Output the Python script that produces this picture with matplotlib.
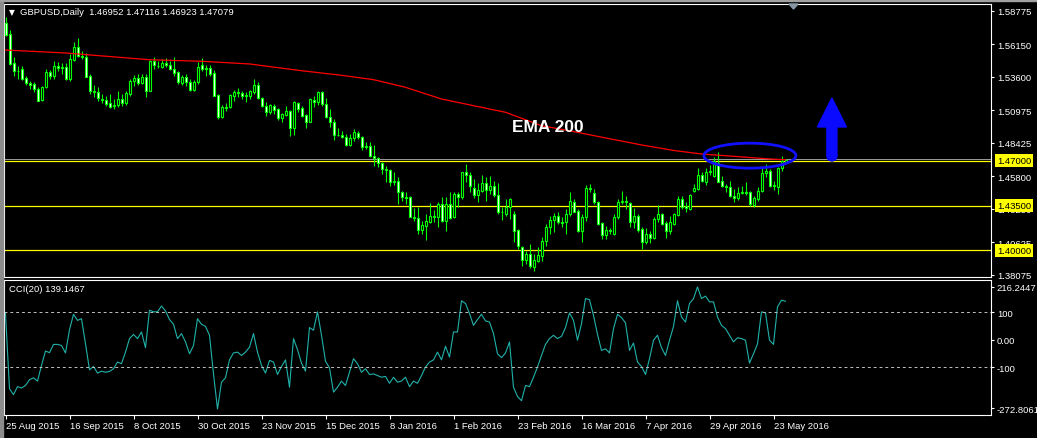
import numpy as np
import matplotlib.pyplot as plt
import matplotlib.transforms as mtrans
from matplotlib.patches import Ellipse, FancyArrow, Polygon, Rectangle

# GBPUSD daily, 25 Aug 2015 .. 27 May 2016
opens = [
    1.5778, 1.5695, 1.5465, 1.5402, 1.5420, 1.5350, 1.5311, 1.5303, 1.5264, 1.5177,
    1.5277, 1.5394, 1.5368, 1.5447, 1.5428, 1.5434, 1.5342, 1.5491, 1.5590, 1.5525,
    1.5512, 1.5366, 1.5246, 1.5240, 1.5185, 1.5177, 1.5151, 1.5131, 1.5138, 1.5185,
    1.5151, 1.5225, 1.5324, 1.5350, 1.5313, 1.5355, 1.5251, 1.5486, 1.5447, 1.5434,
    1.5465, 1.5452, 1.5420, 1.5394, 1.5308, 1.5360, 1.5316, 1.5256, 1.5316, 1.5452,
    1.5426, 1.5426, 1.5389, 1.5217, 1.5042, 1.5120, 1.5120, 1.5211, 1.5237, 1.5232,
    1.5211, 1.5211, 1.5243, 1.5295, 1.5190, 1.5128, 1.5081, 1.5133, 1.5107, 1.5034,
    1.5060, 1.5091, 1.4955, 1.5154, 1.5117, 1.5060, 1.5008, 1.5180, 1.5164, 1.5237,
    1.5146, 1.5042, 1.5002, 1.4903, 1.4903, 1.4885, 1.4827, 1.4877, 1.4919, 1.4885,
    1.4814, 1.4814, 1.4736, 1.4720, 1.4684, 1.4637, 1.4631, 1.4532, 1.4545, 1.4453,
    1.4417, 1.4414, 1.4263, 1.4252, 1.4161, 1.4192, 1.4224, 1.4265, 1.4257, 1.4362,
    1.4231, 1.4362, 1.4257, 1.4440, 1.4414, 1.4610, 1.4592, 1.4485, 1.4435, 1.4467,
    1.4527, 1.4474, 1.4506, 1.4435, 1.4302, 1.4284, 1.4336, 1.4284, 1.4161, 1.4022,
    1.3926, 1.3970, 1.3866, 1.3918, 1.3957, 1.4075, 1.4179, 1.4237, 1.4265, 1.4221,
    1.4218, 1.4284, 1.4375, 1.4310, 1.4153, 1.4257, 1.4485, 1.4448, 1.4375, 1.4213,
    1.4119, 1.4156, 1.4127, 1.4258, 1.4380, 1.4386, 1.4370, 1.4224, 1.4266, 1.4166,
    1.4062, 1.4127, 1.4093, 1.4245, 1.4284, 1.4213, 1.4153, 1.4205, 1.4276, 1.4401,
    1.4349, 1.4323, 1.4467, 1.4480, 1.4590, 1.4537, 1.4616, 1.4584, 1.4683, 1.4540,
    1.4501, 1.4493, 1.4422, 1.4407, 1.4448, 1.4454, 1.4454, 1.4354, 1.4401, 1.4467,
    1.4603, 1.4618, 1.4501, 1.4493, 1.4642, 1.46952,
]
highs = [
    1.5826, 1.5726, 1.5512, 1.5447, 1.5441, 1.5368, 1.5329, 1.5316, 1.5277, 1.5290,
    1.5420, 1.5413, 1.5486, 1.5473, 1.5465, 1.5465, 1.5538, 1.5629, 1.5663, 1.5564,
    1.5543, 1.5381, 1.5295, 1.5277, 1.5225, 1.5212, 1.5225, 1.5185, 1.5246, 1.5225,
    1.5251, 1.5342, 1.5376, 1.5381, 1.5381, 1.5381, 1.5491, 1.5517, 1.5486, 1.5499,
    1.5507, 1.5486, 1.5517, 1.5407, 1.5373, 1.5381, 1.5342, 1.5334, 1.5473, 1.5504,
    1.5452, 1.5452, 1.5415, 1.5224, 1.5138, 1.5154, 1.5224, 1.5258, 1.5269, 1.5251,
    1.5243, 1.5258, 1.5342, 1.5321, 1.5198, 1.5159, 1.5146, 1.5146, 1.5112, 1.5075,
    1.5128, 1.5097, 1.5172, 1.5164, 1.5133, 1.5068, 1.5190, 1.5211, 1.5251, 1.5251,
    1.5190, 1.5107, 1.5028, 1.4955, 1.4937, 1.4911, 1.4911, 1.4950, 1.4937, 1.4893,
    1.4851, 1.4851, 1.4825, 1.4728, 1.4694, 1.4663, 1.4637, 1.4616, 1.4571, 1.4467,
    1.4453, 1.4427, 1.4328, 1.4336, 1.4231, 1.4284, 1.4370, 1.4315, 1.4375, 1.4414,
    1.4414, 1.4453, 1.4453, 1.4459, 1.4616, 1.4676, 1.4610, 1.4558, 1.4527, 1.4589,
    1.4571, 1.4579, 1.4545, 1.4527, 1.4336, 1.4401, 1.4406, 1.4310, 1.4166, 1.4030,
    1.3996, 1.4048, 1.3970, 1.4022, 1.4101, 1.4205, 1.4271, 1.4292, 1.4297, 1.4257,
    1.4323, 1.4453, 1.4401, 1.4323, 1.4284, 1.4511, 1.4519, 1.4480, 1.4388, 1.4218,
    1.4187, 1.4171, 1.4284, 1.4401, 1.4467, 1.4428, 1.4375, 1.4328, 1.4284, 1.4179,
    1.4171, 1.4153, 1.4258, 1.4354, 1.4292, 1.4232, 1.4271, 1.4292, 1.4428, 1.4428,
    1.4380, 1.4441, 1.4519, 1.4642, 1.4610, 1.4642, 1.4668, 1.4728, 1.4772, 1.4584,
    1.4519, 1.4545, 1.4480, 1.4493, 1.4506, 1.4537, 1.4467, 1.4428, 1.4493, 1.4642,
    1.4676, 1.4637, 1.4545, 1.4649, 1.4736, 1.47116,
]
lows = [
    1.5682, 1.5455, 1.5368, 1.5342, 1.5338, 1.5298, 1.5264, 1.5238, 1.5167, 1.5172,
    1.5272, 1.5342, 1.5342, 1.5407, 1.5381, 1.5334, 1.5329, 1.5486, 1.5512, 1.5499,
    1.5355, 1.5225, 1.5204, 1.5167, 1.5151, 1.5131, 1.5115, 1.5107, 1.5120, 1.5133,
    1.5141, 1.5212, 1.5290, 1.5298, 1.5303, 1.5204, 1.5246, 1.5420, 1.5428, 1.5430,
    1.5439, 1.5413, 1.5368, 1.5303, 1.5298, 1.5290, 1.5246, 1.5246, 1.5303, 1.5407,
    1.5363, 1.5368, 1.5206, 1.5028, 1.5034, 1.5094, 1.5112, 1.5172, 1.5198, 1.5185,
    1.5159, 1.5185, 1.5224, 1.5185, 1.5120, 1.5055, 1.5068, 1.5068, 1.5023, 1.5002,
    1.5055, 1.4898, 1.4903, 1.5081, 1.5042, 1.4955, 1.5002, 1.5120, 1.5138, 1.5133,
    1.5034, 1.4963, 1.4866, 1.4893, 1.4877, 1.4814, 1.4814, 1.4859, 1.4872, 1.4788,
    1.4793, 1.4728, 1.4663, 1.4650, 1.4597, 1.4537, 1.4506, 1.4511, 1.4362, 1.4388,
    1.4362, 1.4257, 1.4231, 1.4127, 1.4127, 1.4082, 1.4213, 1.4218, 1.4179, 1.4224,
    1.4153, 1.4244, 1.4250, 1.4336, 1.4401, 1.4532, 1.4453, 1.4406, 1.4375, 1.4453,
    1.4388, 1.4440, 1.4414, 1.4284, 1.4239, 1.4271, 1.4244, 1.4062, 1.4009, 1.3879,
    1.3892, 1.3858, 1.3839, 1.3905, 1.3918, 1.4036, 1.4127, 1.4140, 1.4205, 1.4179,
    1.4127, 1.4271, 1.4297, 1.4145, 1.4062, 1.4231, 1.4459, 1.4362, 1.4197, 1.4088,
    1.4088, 1.4127, 1.4119, 1.4245, 1.4362, 1.4323, 1.4179, 1.4171, 1.4145, 1.4009,
    1.4049, 1.4057, 1.4088, 1.4218, 1.4197, 1.4093, 1.4127, 1.4197, 1.4266, 1.4323,
    1.4302, 1.4318, 1.4459, 1.4474, 1.4532, 1.4511, 1.4590, 1.4571, 1.4532, 1.4493,
    1.4454, 1.4420, 1.4380, 1.4396, 1.4441, 1.4433, 1.4349, 1.4336, 1.4388, 1.4454,
    1.4571, 1.4493, 1.4474, 1.4441, 1.4623, 1.46923,
]
closes = [
    1.5690, 1.5460, 1.5402, 1.5407, 1.5342, 1.5308, 1.5298, 1.5264, 1.5172, 1.5282,
    1.5394, 1.5368, 1.5447, 1.5426, 1.5439, 1.5342, 1.5499, 1.5590, 1.5525, 1.5517,
    1.5360, 1.5246, 1.5240, 1.5193, 1.5177, 1.5146, 1.5125, 1.5141, 1.5185, 1.5151,
    1.5230, 1.5324, 1.5350, 1.5308, 1.5360, 1.5251, 1.5486, 1.5455, 1.5441, 1.5465,
    1.5455, 1.5420, 1.5389, 1.5316, 1.5360, 1.5316, 1.5256, 1.5316, 1.5439, 1.5420,
    1.5420, 1.5381, 1.5211, 1.5042, 1.5120, 1.5118, 1.5217, 1.5237, 1.5235, 1.5211,
    1.5217, 1.5248, 1.5295, 1.5190, 1.5128, 1.5081, 1.5138, 1.5102, 1.5034, 1.5065,
    1.5091, 1.4955, 1.5159, 1.5107, 1.5055, 1.5008, 1.5185, 1.5164, 1.5243, 1.5146,
    1.5042, 1.5002, 1.4903, 1.4901, 1.4885, 1.4827, 1.4877, 1.4924, 1.4885, 1.4806,
    1.4812, 1.4736, 1.4720, 1.4684, 1.4637, 1.4631, 1.4532, 1.4545, 1.4453, 1.4414,
    1.4411, 1.4263, 1.4252, 1.4161, 1.4197, 1.4229, 1.4265, 1.4260, 1.4362, 1.4231,
    1.4362, 1.4250, 1.4440, 1.4414, 1.4610, 1.4592, 1.4506, 1.4435, 1.4474, 1.4527,
    1.4474, 1.4500, 1.4433, 1.4302, 1.4297, 1.4336, 1.4401, 1.4153, 1.4030, 1.3926,
    1.3970, 1.3873, 1.3923, 1.3962, 1.4075, 1.4179, 1.4237, 1.4265, 1.4218, 1.4216,
    1.4284, 1.4388, 1.4302, 1.4153, 1.4257, 1.4485, 1.4480, 1.4375, 1.4205, 1.4119,
    1.4161, 1.4150, 1.4258, 1.4380, 1.4386, 1.4375, 1.4224, 1.4266, 1.4161, 1.4062,
    1.4127, 1.4093, 1.4245, 1.4284, 1.4205, 1.4153, 1.4218, 1.4284, 1.4401, 1.4336,
    1.4328, 1.4433, 1.4485, 1.4590, 1.4545, 1.4616, 1.4623, 1.4702, 1.4537, 1.4501,
    1.4493, 1.4422, 1.4407, 1.4448, 1.4454, 1.4451, 1.4362, 1.4407, 1.4467, 1.4603,
    1.4618, 1.4501, 1.4511, 1.4642, 1.4702, 1.47079,
]

# CCI(20), one value per bar
cci = [
    94.5, -178, -199, -170, -175, -166, -145, -138, -150, -93,
    -41, -47, -17, -17, -21, -48, 36, 92, 70, 76,
    -15, -109, -97, -121, -114, -118, -115, -105, -81, -87,
    -45, 4, 19, 4, 28, -29, 107, 101, 101, 122,
    104, 73, 56, 4, 22, -8, -51, -21, 76, 56,
    48, 16, -124, -251, -154, -138, -73, -48, -45, -57,
    -45, -27, 22, -45, -93, -121, -75, -81, -126, -97,
    -73, -172, 4, -36, -85, -114, 44, 34, 101, 16,
    -78, -102, -190, -172, -150, -166, -118, -69, -87, -118,
    -105, -126, -124, -130, -136, -133, -158, -136, -154, -150,
    -136, -170, -150, -158, -130, -99, -81, -73, -45, -73,
    -24, -63, 28, 28, 141, 131, 95, 52, 73, 92,
    68, 64, 22, -51, -65, -48, -8, -172, -206, -221,
    -166, -170, -136, -99, -57, -17, 4, 16, 4, 12,
    44, 97, 70, -2, 58, 149, 145, 88, 19, -39,
    -33, -48, 40, 92, 80, 61, -39, -12, -81, -97,
    -126, -69, -2, 16, -29, -57, -2, 48, 141, 82,
    64, 131, 149, 191, 149, 158, 137, 137, 82, 52,
    40, 16, -8, 7, 4, -2, -85, -51, -15, 101,
    97, -2, -17, 119, 143, 139.1467,
]

# EMA 200 read at some bars
ema_bars = [0, 15, 36, 49, 61, 74, 84, 92, 100, 109, 117, 125, 134, 142, 150, 159, 167, 174, 182, 191, 195]
ema_vals = [1.5569, 1.5546, 1.5493, 1.5481, 1.5460, 1.5407, 1.5371, 1.5337, 1.5277, 1.5185, 1.5133,
            1.5081, 1.4976, 1.4930, 1.4880, 1.4825, 1.4782, 1.4754, 1.4736, 1.4715, 1.4709]

levels = [1.47000, 1.43500, 1.40000]
price_ticks = [1.58775, 1.56150, 1.53600, 1.50975, 1.48425, 1.45800, 1.43250, 1.40625, 1.38075]
date_bars = list(range(0, 193, 16))
date_labels = ['25 Aug 2015', '16 Sep 2015', '8 Oct 2015', '30 Oct 2015', '23 Nov 2015',
               '15 Dec 2015', '8 Jan 2016', '1 Feb 2016', '23 Feb 2016', '16 Mar 2016',
               '7 Apr 2016', '29 Apr 2016', '23 May 2016']

plt.rcParams['font.family'] = ['Liberation Sans', 'DejaVu Sans']
FS = 6.8
LIME = '#00ff00'
W, H = 1037, 439

fig = plt.figure(figsize=(W / 100, H / 100), dpi=100, facecolor='black')
ax = fig.add_axes([4 / W, 1 - 278 / H, 987 / W, 273 / H], facecolor='black')
ax2 = fig.add_axes([4 / W, 1 - 416 / H, 987 / W, 135 / H], facecolor='black', sharex=ax)

o = np.array(opens); h = np.array(highs); l = np.array(lows); c = np.array(closes)
x = np.arange(len(o))

# candles: white body = down day, black body = up day
ax.vlines(x, l, h, color=LIME, lw=0.8, zorder=2)
bull = c >= o
top = np.maximum(o, c)
bot = np.minimum(o, c)
ax.bar(x[bull], (top - bot)[bull], bottom=bot[bull], width=0.5, facecolor='black',
       edgecolor=LIME, lw=0.8, zorder=3)
ax.bar(x[~bull], (top - bot)[~bull], bottom=bot[~bull], width=0.5, facecolor='white',
       edgecolor=LIME, lw=0.8, zorder=3)

# EMA 200
ax.plot(ema_bars, ema_vals, color='#ff0000', lw=0.9, zorder=4)

# horizontal levels
ax.axhline(1.4711, color='#b4b4b4', lw=0.6, zorder=1)
for lv in levels:
    ax.axhline(lv, color='#ffff00', lw=0.9, zorder=1)

ax.set_xlim(-0.375, 246.375)
ax.set_ylim(1.37897, 1.59300)
ax.tick_params(axis='x', bottom=False, labelbottom=False, top=False, labeltop=False)
ax.yaxis.tick_right()
ax.set_yticks(price_ticks)
ax.set_yticklabels(['%.5f' % t for t in price_ticks])
ax.tick_params(axis='y', colors='white', labelsize=FS, length=2.2, width=0.8, pad=2)
for s in ax.spines.values():
    s.set_color('white')
    s.set_linewidth(0.8)

bt = mtrans.blended_transform_factory(ax.transAxes, ax.transData)
for lv in levels:
    ax.text(1.0062, lv, '%.5f' % lv, transform=bt, ha='left', va='center', fontsize=FS,
            color='black', zorder=6, clip_on=False,
            bbox=dict(boxstyle='square,pad=0.22', fc='#ffff00', ec='none'))

# annotations: ellipse + arrow
ax.add_patch(Ellipse((186.1, 1.4741), 23, 0.0196, fill=False, ec='#1010ff', lw=2.0, zorder=5))
ax.add_patch(FancyArrow(206.6, 1.4738, 0, 0.0455, width=2.5, head_width=7.25, head_length=0.0227,
                        length_includes_head=True, color='#0a0aff', zorder=5))
ax.add_patch(Ellipse((206.6, 1.4738), 2.5, 0.0078, color='#0a0aff', zorder=5))

# CCI panel
ax2.plot(x, cci, color='#20b2aa', lw=0.8)
for lv in (100, -100):
    ax2.axhline(lv, color='#c0c0c0', lw=0.7, ls=(0, (3, 3)))
ax2.set_ylim(-272.8061, 216.2447)
ax2.yaxis.tick_right()
ax2.set_yticks([191.6, 100, 0, -100, -248.4])
ax2.set_yticklabels(['216.2447', '100', '0.00', '-100', '-272.8061'])
ax2.tick_params(axis='y', colors='white', labelsize=FS, length=2.2, width=0.8, pad=2)
ax2.set_xticks(date_bars)
ax2.set_xticklabels(date_labels, ha='left')
ax2.tick_params(axis='x', colors='white', labelsize=FS, length=3, width=0.8, pad=1.5)
for s in ax2.spines.values():
    s.set_color('white')
    s.set_linewidth(0.8)

# texts
fig.text(9 / W, 1 - 12.7 / H, '\u25bc', color='white', fontsize=5.5, ha='left', va='center',
         family=['DejaVu Sans'])
fig.text(20 / W, 1 - 12.7 / H, 'GBPUSD,Daily  1.46952 1.47116 1.46923 1.47079', color='white',
         fontsize=FS, ha='left', va='center')
fig.text(9 / W, 1 - 290 / H, 'CCI(20) 139.1467', color='white', fontsize=FS, ha='left', va='center')
fig.text(548 / W, 1 - 128 / H, 'EMA 200', color='white', fontsize=12.5, fontweight='bold',
         ha='center', va='center')

# window decorations
fig.add_artist(Rectangle((0, 0), 2.5 / W, 1, transform=fig.transFigure, color='#8c8c8c'))
fig.add_artist(Rectangle((0, 1 - 2 / H), 1, 2 / H, transform=fig.transFigure, color='#a0a0a0'))
fig.add_artist(Polygon([[789 / W, 1 - 5 / H], [798 / W, 1 - 5 / H], [793.5 / W, 1 - 10 / H]],
                       transform=fig.transFigure, color='#8796a5'))

fig.savefig('out.png', dpi=100, facecolor='black')
